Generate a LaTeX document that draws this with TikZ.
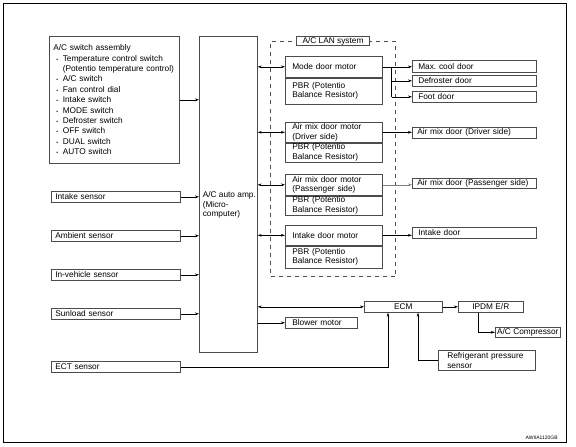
\documentclass[tikz,border=0pt]{standalone}
\usepackage{fontspec}
\setmainfont{Liberation Sans}
\usetikzlibrary{positioning,arrows.meta}
\definecolor{boxline}{gray}{0.3}
\frenchspacing
\newcommand{\swi}[1]{\hspace*{3pt}\makebox[6.5pt][l]{\tiny\textbullet}\mbox{#1}}
\tikzset{
	blk/.style={draw=boxline,line width=0.6pt,anchor=north west,align=left,inner ysep=0pt},
	ctr/.style={draw=boxline,line width=0.6pt,anchor=north west,align=center,inner sep=0pt},
	lanbox/.style={draw=boxline,line width=1pt,dash pattern=on 4pt off 4pt,anchor=north west,inner sep=0pt},
}
\begin{document}
\begin{tikzpicture}[x=1pt,y=-1pt,>={Stealth[length=4pt,width=2.6pt]},
	every node/.style={font=\fontsize{8.3}{9.5}\selectfont},
	every path/.style={line width=0.6pt}]
	\useasboundingbox (0,0) rectangle (576,447);
	\draw[line width=1pt] (3,3) rectangle (566,442);
	% inputs
	\node[blk,inner xsep=4pt,text width=122pt,minimum height=127pt,font=\fontsize{8.3}{10.4}\selectfont] (sw) at (49,36) {A/C switch assembly\\
		\swi{Temperature control switch}\\
		\hspace*{9.5pt}\mbox{(Potentio temperature control)}\\
		\swi{A/C switch}\\
		\swi{Fan control dial}\\
		\swi{Intake switch}\\
		\swi{MODE switch}\\
		\swi{Defroster switch}\\
		\swi{OFF switch}\\
		\swi{DUAL switch}\\
		\swi{AUTO switch}};
	\node[blk,inner xsep=4pt,text width=121pt,minimum height=11pt] (intake) at (51,191) {Intake sensor};
	\node[blk,inner xsep=4pt,text width=121pt,minimum height=11pt] (amb) at (51,230) {Ambient sensor};
	\node[blk,inner xsep=4pt,text width=121pt,minimum height=11pt] (inveh) at (51,269) {In-vehicle sensor};
	\node[blk,inner xsep=4pt,text width=121pt,minimum height=11pt] (sun) at (51,308) {Sunload sensor};
	\node[blk,inner xsep=4pt,text width=121pt,minimum height=11pt] (ect) at (51,361) {ECT sensor};
	% auto amp
	\node[ctr,minimum width=58pt,minimum height=316pt] (amp) at (199,36) {};
	\node[anchor=west,align=left,inner sep=0pt] (amptext) at (202.5,205) {A/C auto amp.\\(Micro-\\computer)};
	% LAN system
	\node[lanbox,minimum width=125pt,minimum height=235pt] (lan) at (270,41) {};
	\node[draw=boxline,fill=white,inner sep=0pt,minimum width=73pt,minimum height=9pt] (lantitle) at (lan.north) {A/C LAN system};
	\node[blk,inner xsep=7pt,text width=83pt,minimum height=21pt] (mdm) at (285,56) {Mode door motor};
	\node[blk,inner xsep=7pt,text width=83pt,minimum height=26pt,below=0pt of mdm] (mdmpbr) {PBR (Potentio\\Balance Resistor)};
	\node[blk,inner xsep=7pt,text width=83pt,minimum height=20pt] (amd) at (285,122) {Air mix door motor\\(Driver side)};
	\node[blk,inner xsep=7pt,text width=83pt,minimum height=19pt,below=0pt of amd] (amdpbr) {PBR (Potentio\\Balance Resistor)};
	\node[blk,inner xsep=7pt,text width=83pt,minimum height=21pt] (amdp) at (285,174) {Air mix door motor\\(Passenger side)};
	\node[blk,inner xsep=7pt,text width=83pt,minimum height=19pt,below=0pt of amdp] (amdppbr) {PBR (Potentio\\Balance Resistor)};
	\node[blk,inner xsep=7pt,text width=83pt,minimum height=20pt] (idm) at (285,225) {Intake door motor};
	\node[blk,inner xsep=7pt,text width=83pt,minimum height=22pt,below=0pt of idm] (idmpbr) {PBR (Potentio\\Balance Resistor)};
	% doors
	\node[blk,inner xsep=6pt,text width=112pt,minimum height=12pt] (maxc) at (412,60) {Max. cool door};
	\node[blk,inner xsep=6pt,text width=112pt,minimum height=11pt] (defr) at (412,75) {Defroster door};
	\node[blk,inner xsep=6pt,text width=112pt,minimum height=11pt] (foot) at (412,91) {Foot door};
	\node[blk,inner xsep=5pt,text width=114pt,minimum height=11pt] (amdd) at (412,127) {Air mix door (Driver side)};
	\node[blk,inner xsep=5pt,text width=114pt,minimum height=10pt] (amdpd) at (412,178) {Air mix door (Passenger side)};
	\node[blk,inner xsep=6pt,text width=112pt,minimum height=11pt] (intd) at (412,227) {Intake door};
	% engine side
	\node[ctr,minimum width=78pt,minimum height=11pt] (ecm) at (364,301) {ECM};
	\node[ctr,minimum width=65pt,minimum height=11pt] (ipdm) at (458,301) {IPDM E/R};
	\node[ctr,minimum width=65pt,minimum height=10pt] (comp) at (495,327) {A/C Compressor};
	\node[blk,inner xsep=7pt,text width=58pt,minimum height=11pt] (blow) at (285,317) {Blower motor};
	\node[blk,inner xsep=9pt,text width=79pt,minimum height=20pt] (refr) at (438,350) {Refrigerant pressure\\sensor};
	\node[anchor=south east,inner sep=0pt,font=\fontsize{5}{6}\selectfont] (code) at (558,440) {AWIIA1120GB};
	% connectors
	\draw[->] (sw.east) -- (sw.east -| amp.west);
	\foreach \s in {intake,amb,inveh,sun}
		\draw[->] (\s.east) -- (\s.east -| amp.west);
	\foreach \m in {mdm,amd,amdp,idm}
		\draw[<->] (amp.east |- \m.west) -- (\m.west);
	\coordinate (br) at ([xshift=9pt]mdm.east);
	\draw[->] (mdm.east) -- (mdm.east -| maxc.west);
	\draw (br) -- (br |- foot.west);
	\draw[->] (br |- defr.west) -- (defr.west);
	\draw[->] (br |- foot.west) -- (foot.west);
	\draw[->] (amd.east) -- (amd.east -| amdd.west);
	\draw[->,gray] (amdp.east) -- (amdp.east -| amdpd.west);
	\draw[->] (idm.east) -- (idm.east -| intd.west);
	\draw[<->] (amp.east |- ecm.west) -- (ecm.west);
	\draw[->] (amp.east |- blow.west) -- (blow.west);
	\draw[->] (ecm.east) -- (ipdm.west);
	\draw[->] ([xshift=20pt]ipdm.south west) |- (comp.west);
	\draw[->] (ect.east) -| ([xshift=24pt]ecm.south west);
	\draw[->] (refr.west) -| ([xshift=54pt]ecm.south west);
\end{tikzpicture}
\end{document}
